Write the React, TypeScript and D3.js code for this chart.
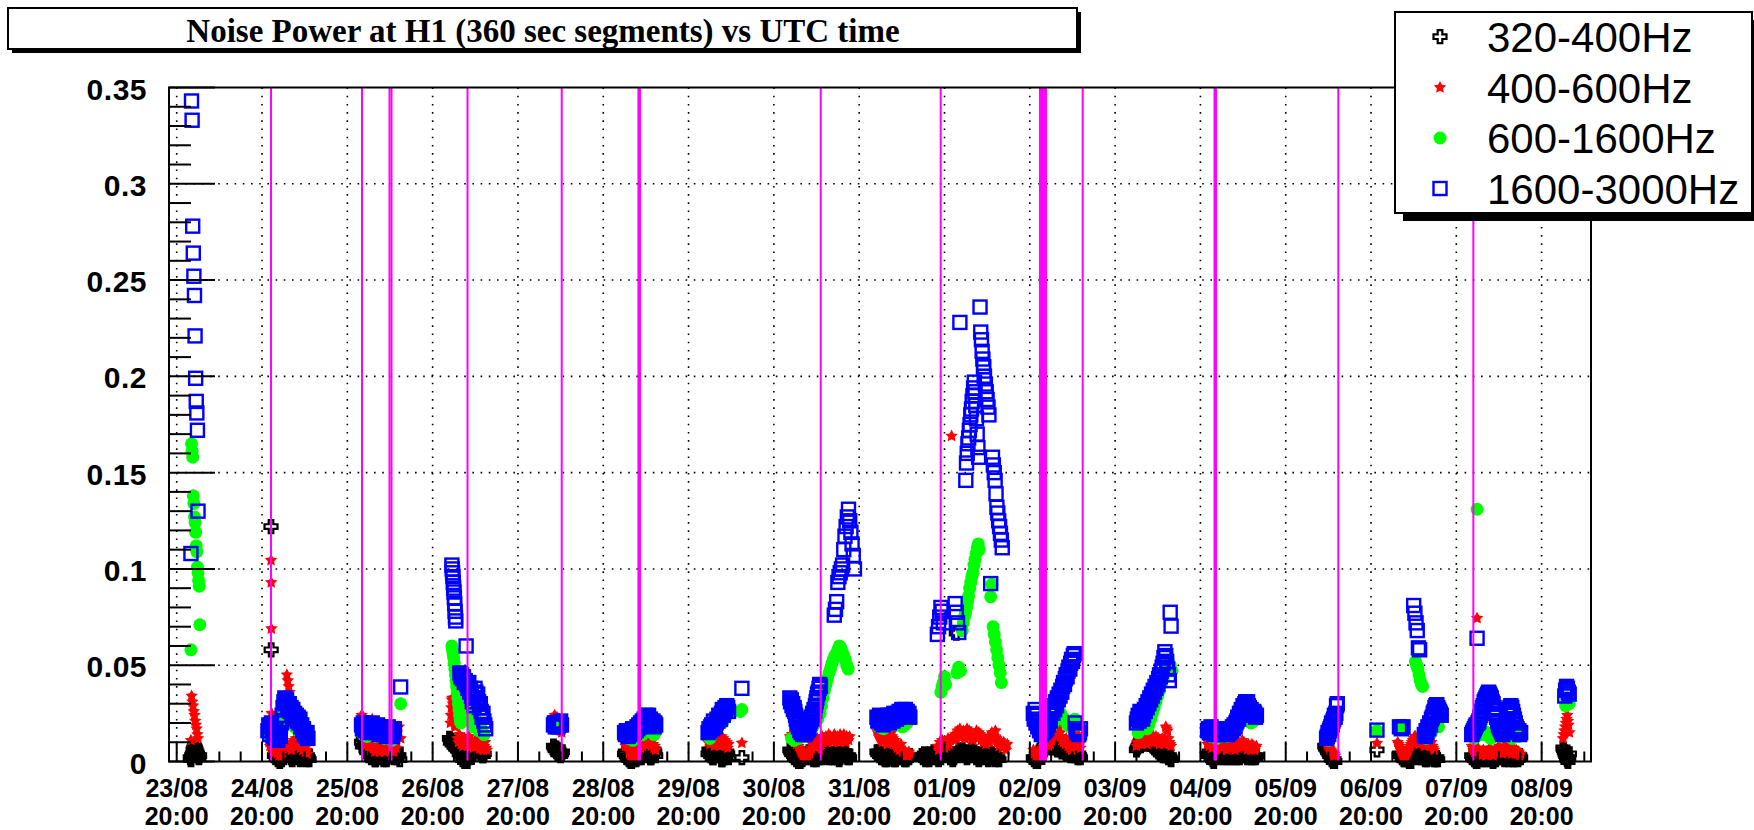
import React from "react";
import * as d3 from "d3";

// A run of consecutive segments: [first segment "DD/MM HH:MM", spacing in minutes, values]
type Run = [string, number, number[]];

const YEAR = 2002;

const seriesLabels = ["320-400Hz", "400-600Hz", "600-1600Hz", "1600-3000Hz"];

const band320: Run[] = [
  ["23/08 23:50", 12, [0.002, 0.001, 0.003, 0.004, 0.006, 0.007, 0.008, 0.007, 0.006, 0.005, 0.004, 0.003, 0.002, 0.003]],
  ["24/08 22:32", 3, [0.122, 0.058]],
  ["24/08 23:30", 15, [0.003, 0.005, 0.002, 0.004, 0.001, 0.003, 0.0, 0.002, 0.001, 0.004, 0.002, 0.005, 0.004, 0.006, 0.005, 0.007, 0.005, 0.004, 0.003, 0.002, 0.001, 0.003, 0.002, 0.004, 0.004, 0.006, 0.005, 0.003, 0.003, 0.001, 0.002, 0.004, 0.004, 0.002, 0.003, 0.005, 0.001, 0.003, 0.002, 0.001]],
  ["26/08 00:00", 15, [0.01, 0.008, 0.012, 0.009, 0.008, 0.006, 0.005, 0.007, 0.003, 0.004, 0.006, 0.002, 0.004, 0.003, 0.002, 0.001, 0.001, 0.003, 0.003, 0.005, 0.005, 0.002, 0.004, 0.006, 0.002, 0.001, 0.003, 0.004, 0.001, 0.002, 0.004, 0.005, 0.006, 0.003, 0.003, 0.005, 0.005, 0.002, 0.004, 0.006, 0.002, 0.003, 0.003, 0.001]],
  ["27/08 00:45", 15, [0.012, 0.01, 0.011, 0.009, 0.01, 0.008, 0.009, 0.007, 0.008, 0.006, 0.006, 0.004, 0.005, 0.003, 0.003, 0.001, 0.002, 0.0, 0.001, 0.002, 0.0, 0.003, 0.002, 0.004, 0.004, 0.006, 0.006, 0.008, 0.008, 0.007, 0.007, 0.009, 0.009, 0.006, 0.006, 0.004, 0.005, 0.003, 0.003, 0.004]],
  ["28/08 06:00", 15, [0.008, 0.007, 0.006, 0.007, 0.005, 0.004, 0.006, 0.005, 0.003, 0.004, 0.005]],
  ["29/08 02:00", 15, [0.004, 0.005, 0.003, 0.002, 0.002, 0.001, 0.001, 0.0, 0.0, 0.002, 0.001, 0.003, 0.002, 0.001, 0.003, 0.004, 0.002, 0.003, 0.004, 0.002, 0.003, 0.005, 0.005, 0.004, 0.006, 0.007, 0.004, 0.005, 0.003, 0.002, 0.002, 0.004, 0.004, 0.006, 0.005, 0.003]],
  ["30/08 01:30", 15, [0.004, 0.006, 0.005, 0.003, 0.003, 0.002, 0.002, 0.004, 0.004, 0.006, 0.006, 0.005, 0.005, 0.003, 0.003, 0.001, 0.001, 0.002, 0.002, 0.004, 0.003, 0.005, 0.004, 0.002]],
  ["30/08 11:00", 30, [0.002]],
  ["31/08 00:30", 16, [0.006, 0.005, 0.004, 0.005, 0.003, 0.002, 0.003, 0.001, 0.002, 0.0, 0.001, 0.0, 0.002, 0.001, 0.003, 0.002, 0.003, 0.004, 0.002, 0.004, 0.005, 0.003, 0.004, 0.002, 0.003, 0.001, 0.002, 0.003, 0.001, 0.003, 0.004, 0.002, 0.004, 0.003, 0.002, 0.003, 0.005, 0.004, 0.003, 0.005, 0.004, 0.002, 0.003, 0.004, 0.002, 0.003, 0.004, 0.002, 0.003, 0.004, 0.002, 0.003, 0.001, 0.002, 0.004, 0.003, 0.005, 0.004, 0.003, 0.005, 0.003, 0.002, 0.003, 0.002]],
  ["01/09 01:00", 15, [0.005, 0.004, 0.005, 0.003, 0.004, 0.002, 0.003, 0.002, 0.003, 0.001, 0.002, 0.001, 0.002, 0.004, 0.003, 0.004, 0.003, 0.002, 0.003, 0.001, 0.002, 0.001, 0.003, 0.002, 0.004, 0.003, 0.005, 0.004, 0.003, 0.002, 0.003, 0.001, 0.002, 0.001, 0.002, 0.003, 0.002, 0.003]],
  ["01/09 13:40", 20, [0.003, 0.002, 0.004, 0.001, 0.002, 0.003, 0.001, 0.004, 0.002, 0.003, 0.005, 0.003, 0.004, 0.002, 0.001, 0.003, 0.002, 0.004, 0.005, 0.006, 0.004, 0.005, 0.003, 0.004, 0.002, 0.003, 0.001, 0.002, 0.004, 0.0667, 0.003, 0.005, 0.006, 0.004, 0.006, 0.005, 0.003, 0.004, 0.002, 0.003, 0.005, 0.004, 0.006, 0.003, 0.005, 0.004, 0.002, 0.003, 0.001, 0.002, 0.004, 0.003, 0.005, 0.004, 0.002, 0.003, 0.001, 0.003, 0.002, 0.004, 0.003, 0.002, 0.001, 0.003, 0.002, 0.001]],
  ["02/09 21:00", 15, [0.002, 0.001, 0.002, 0.0, 0.001, 0.0, 0.002, 0.003, 0.004, 0.005, 0.006, 0.007, 0.008, 0.009, 0.01, 0.008, 0.009, 0.011, 0.01, 0.008, 0.009, 0.007, 0.01, 0.009, 0.008, 0.01, 0.007, 0.006, 0.008, 0.009, 0.007, 0.006, 0.005, 0.007, 0.008, 0.006, 0.005, 0.004, 0.006, 0.007, 0.005, 0.004, 0.003, 0.005, 0.006, 0.004, 0.003, 0.005, 0.004, 0.003, 0.002, 0.004, 0.003, 0.002]],
  ["04/09 02:00", 15, [0.006, 0.007, 0.008, 0.009, 0.01, 0.011, 0.012, 0.011, 0.01, 0.012, 0.011, 0.01, 0.009, 0.011, 0.012, 0.01, 0.009, 0.011, 0.01, 0.008, 0.009, 0.007, 0.008, 0.006, 0.007, 0.005, 0.006, 0.004, 0.005, 0.004, 0.003, 0.004, 0.003, 0.0045, 0.004, 0.003, 0.002, 0.003, 0.002, 0.001]],
  ["04/09 22:00", 15, [0.004, 0.003, 0.005, 0.004, 0.002, 0.003, 0.001, 0.0, 0.002, 0.003, 0.004, 0.003, 0.002, 0.004, 0.003, 0.005, 0.004, 0.003, 0.002, 0.003, 0.004, 0.002, 0.003, 0.004, 0.005, 0.003, 0.002, 0.004, 0.003, 0.002, 0.003, 0.004, 0.003, 0.002, 0.004, 0.003, 0.002, 0.003, 0.004, 0.005, 0.004, 0.003, 0.004, 0.005, 0.003, 0.002, 0.003, 0.004, 0.003, 0.002, 0.004, 0.003, 0.002, 0.003, 0.002, 0.003]],
  ["06/09 07:00", 12, [0.008, 0.007, 0.007, 0.006, 0.005, 0.005, 0.004, 0.003, 0.003, 0.002, 0.001, 0.001, 0.0, 0.001, 0.0]],
  ["06/09 21:40", 1, [0.006]],
  ["07/09 04:00", 15, [0.004, 0.003, 0.003, 0.002, 0.002, 0.001, 0.001, 0.003, 0.002, 0.002, 0.001, 0.0, 0.001, 0.0, 0.002, 0.003, 0.003, 0.004, 0.004, 0.005, 0.003, 0.002, 0.003, 0.004, 0.003, 0.002, 0.004, 0.003, 0.002, 0.001, 0.002, 0.001, 0.002, 0.004, 0.003, 0.004, 0.002, 0.003, 0.002, 0.001, 0.002, 0.001, 0.002, 0.001]],
  ["08/09 00:20", 15, [0.003, 0.002, 0.002, 0.001, 0.001, 0.0, 0.0, 0.001, 0.002, 0.003, 0.002, 0.003, 0.002, 0.001, 0.002, 0.001, 0.002, 0.003, 0.004, 0.003, 0.002, 0.001, 0.002, 0.001, 0.0, 0.001, 0.002, 0.001, 0.002, 0.003, 0.002, 0.003, 0.004, 0.003, 0.004, 0.003, 0.002, 0.001, 0.002, 0.003, 0.002, 0.001, 0.002, 0.003, 0.002, 0.003, 0.001, 0.002, 0.001, 0.002, 0.003, 0.002, 0.001, 0.002, 0.003, 0.002]],
  ["09/09 02:00", 12, [0.007, 0.006, 0.005, 0.004, 0.003, 0.002, 0.001, 0.0, 0.002, 0.004]],
];

const band400: Run[] = [
  ["24/08 00:00", 12, [0.011, 0.034, 0.031, 0.029, 0.026, 0.024, 0.021, 0.019, 0.017, 0.014, 0.012]],
  ["24/08 22:32", 3, [0.1045, 0.093, 0.069, 0.025]],
  ["24/08 22:00", 15, [0.01, 0.008, 0.011, 0.007, 0.009, 0.006, 0.008, 0.005, 0.007, 0.004, 0.006, 0.003, 0.005, 0.002, 0.004, 0.009, 0.011, 0.008, 0.01, 0.007, 0.045, 0.042, 0.039, 0.036, 0.009, 0.006, 0.008, 0.01, 0.011, 0.009, 0.012, 0.01, 0.008, 0.011, 0.009, 0.007, 0.01, 0.008, 0.006, 0.009, 0.007, 0.005, 0.006, 0.004]],
  ["26/08 00:00", 15, [0.024, 0.022, 0.023, 0.02, 0.021, 0.012, 0.009, 0.011, 0.008, 0.01, 0.006, 0.009, 0.022, 0.007, 0.009, 0.005, 0.008, 0.006, 0.01, 0.007, 0.005, 0.009, 0.006, 0.008, 0.011, 0.007, 0.005, 0.008, 0.006, 0.009, 0.011, 0.008, 0.006, 0.01, 0.007, 0.009, 0.005, 0.008, 0.01, 0.007]],
  ["26/08 10:30", 30, [0.018, 0.012]],
  ["27/08 01:00", 8, [0.02, 0.024, 0.028, 0.032, 0.033, 0.03, 0.027, 0.025, 0.022, 0.019, 0.018]],
  ["27/08 03:00", 15, [0.012, 0.01, 0.014, 0.011, 0.009, 0.012, 0.008, 0.01, 0.012, 0.009, 0.011, 0.008, 0.01, 0.013, 0.009, 0.011, 0.008, 0.01, 0.007, 0.009, 0.011, 0.008, 0.01, 0.006, 0.009, 0.011, 0.008, 0.007, 0.009, 0.006, 0.008, 0.01, 0.007, 0.006]],
  ["28/08 06:00", 20, [0.023, 0.024, 0.022, 0.023, 0.02, 0.018, 0.016, 0.015]],
  ["29/08 02:00", 15, [0.01, 0.008, 0.009, 0.006, 0.007, 0.004, 0.005, 0.003, 0.004, 0.002, 0.005, 0.003, 0.004, 0.006, 0.005, 0.007, 0.006, 0.008, 0.007, 0.009, 0.008, 0.01, 0.011, 0.009, 0.012, 0.01, 0.011, 0.009, 0.012, 0.01, 0.008, 0.011, 0.009, 0.007, 0.008, 0.006]],
  ["30/08 01:30", 15, [0.01, 0.012, 0.009, 0.011, 0.013, 0.01, 0.012, 0.008, 0.011, 0.013, 0.009, 0.012, 0.01, 0.008, 0.011, 0.013, 0.01, 0.012, 0.009, 0.011, 0.008, 0.01, 0.007, 0.009]],
  ["30/08 11:00", 30, [0.0096]],
  ["31/08 00:30", 16, [0.013, 0.012, 0.014, 0.011, 0.012, 0.01, 0.011, 0.009, 0.01, 0.008, 0.007, 0.006, 0.005, 0.004, 0.003, 0.004, 0.003, 0.002, 0.004, 0.003, 0.005, 0.004, 0.006, 0.007, 0.009, 0.008, 0.01, 0.011, 0.009, 0.012, 0.008, 0.006, 0.009, 0.011, 0.013, 0.01, 0.012, 0.011, 0.013, 0.01, 0.012, 0.014, 0.011, 0.013, 0.012, 0.01, 0.013, 0.014, 0.012, 0.011, 0.013, 0.012, 0.01, 0.014, 0.012, 0.013, 0.011, 0.014, 0.012, 0.01, 0.013, 0.012, 0.011, 0.013]],
  ["01/09 01:00", 15, [0.016, 0.015, 0.014, 0.013, 0.012, 0.011, 0.01, 0.012, 0.013, 0.011, 0.012, 0.01, 0.009, 0.011, 0.012, 0.014, 0.015, 0.013, 0.012, 0.01, 0.011, 0.009, 0.008, 0.007, 0.008, 0.006, 0.007, 0.009, 0.006, 0.005, 0.006, 0.004, 0.005, 0.003, 0.004, 0.003, 0.005, 0.004]],
  ["01/09 18:00", 20, [0.008, 0.006, 0.01, 0.007, 0.011, 0.009, 0.007, 0.01, 0.008, 0.012, 0.009, 0.011, 0.169, 0.013, 0.011, 0.014, 0.012, 0.016, 0.013, 0.017, 0.015, 0.013, 0.016, 0.012, 0.015, 0.017, 0.014, 0.016, 0.013, 0.012, 0.011, 0.014, 0.013, 0.016, 0.012, 0.015, 0.014, 0.011, 0.013, 0.01, 0.012, 0.009, 0.011, 0.013, 0.01, 0.012, 0.015, 0.011, 0.013, 0.016, 0.012, 0.01, 0.008, 0.011, 0.009, 0.007, 0.01, 0.008, 0.006, 0.009]],
  ["02/09 21:00", 15, [0.006, 0.004, 0.005, 0.003, 0.004, 0.002, 0.003, 0.005, 0.004, 0.006, 0.007, 0.006, 0.008, 0.009, 0.01, 0.009, 0.011, 0.008, 0.01, 0.009, 0.011, 0.012, 0.013, 0.015, 0.017, 0.019, 0.021, 0.023, 0.02, 0.018, 0.015, 0.013, 0.011, 0.012, 0.01, 0.011, 0.009, 0.012, 0.01, 0.008, 0.009, 0.007, 0.008, 0.006, 0.009, 0.011, 0.013, 0.015, 0.014, 0.012, 0.01, 0.008, 0.009, 0.007]],
  ["04/09 02:00", 15, [0.008, 0.01, 0.009, 0.012, 0.011, 0.009, 0.01, 0.012, 0.011, 0.013, 0.01, 0.012, 0.009, 0.011, 0.012, 0.01, 0.011, 0.013, 0.014, 0.012, 0.01, 0.012, 0.013, 0.011, 0.01, 0.012, 0.009, 0.011, 0.01, 0.012, 0.011, 0.009, 0.012, 0.018, 0.017, 0.016, 0.012, 0.01, 0.009, 0.008]],
  ["04/09 22:00", 15, [0.009, 0.01, 0.008, 0.011, 0.009, 0.007, 0.01, 0.008, 0.009, 0.011, 0.008, 0.007, 0.009, 0.01, 0.008, 0.006, 0.009, 0.007, 0.008, 0.01, 0.007, 0.009, 0.006, 0.008, 0.007, 0.009, 0.008, 0.01, 0.007, 0.009, 0.008, 0.006, 0.008, 0.007, 0.009, 0.01, 0.008, 0.007, 0.009, 0.011, 0.008, 0.01, 0.007, 0.009, 0.006, 0.008, 0.009, 0.007, 0.008, 0.006, 0.009, 0.007, 0.008, 0.006, 0.007, 0.008]],
  ["06/09 07:30", 12, [0.01, 0.009, 0.008, 0.008, 0.007, 0.006, 0.006, 0.005, 0.005, 0.004, 0.003, 0.004, 0.003]],
  ["06/09 21:40", 1, [0.0095]],
  ["07/09 03:30", 15, [0.01, 0.009, 0.008, 0.007, 0.005, 0.004, 0.003, 0.003, 0.002, 0.003, 0.004, 0.005, 0.006, 0.007, 0.008, 0.009, 0.01, 0.011, 0.012, 0.013, 0.013, 0.011, 0.012, 0.01, 0.009, 0.011, 0.012, 0.01, 0.011, 0.009, 0.008, 0.01, 0.011, 0.013, 0.012, 0.01, 0.009, 0.008, 0.01, 0.008, 0.007, 0.006]],
  ["08/09 00:20", 15, [0.008, 0.007, 0.006, 0.005, 0.005, 0.006, 0.0744, 0.007, 0.005, 0.004, 0.003, 0.004, 0.005, 0.006, 0.005, 0.004, 0.003, 0.004, 0.005, 0.006, 0.007, 0.006, 0.005, 0.004, 0.003, 0.004, 0.005, 0.006, 0.005, 0.007, 0.006, 0.008, 0.007, 0.006, 0.005, 0.004, 0.005, 0.006, 0.007, 0.008, 0.009, 0.008, 0.007, 0.006, 0.005, 0.004, 0.006, 0.007, 0.005, 0.004, 0.006, 0.005, 0.004, 0.005, 0.003, 0.004]],
  ["09/09 02:00", 12, [0.012, 0.014, 0.016, 0.018, 0.02, 0.022, 0.024, 0.021, 0.019, 0.015]],
];

const band600: Run[] = [
  ["24/08 00:00", 10, [0.058, 0.165, 0.161, 0.158, 0.138, 0.134, 0.127, 0.124, 0.119, 0.112, 0.109, 0.101, 0.098, 0.094, 0.091, 0.071]],
  ["24/08 21:40", 30, [0.013, 0.015, 0.012, 0.014, 0.011, 0.013, 0.012, 0.014, 0.022, 0.026, 0.028, 0.025, 0.022, 0.02, 0.021, 0.018, 0.019, 0.016, 0.015, 0.014, 0.014, 0.012, 0.013]],
  ["26/08 00:00", 30, [0.015, 0.014, 0.016, 0.013, 0.014, 0.016, 0.015, 0.019, 0.013, 0.014, 0.016, 0.015, 0.014, 0.012, 0.013, 0.015, 0.014, 0.011, 0.013]],
  ["26/08 11:00", 30, [0.03]],
  ["27/08 01:25", 10, [0.06, 0.058, 0.056, 0.054, 0.051, 0.048, 0.045, 0.042, 0.039, 0.036, 0.033, 0.03, 0.027, 0.024, 0.022, 0.02]],
  ["27/08 04:00", 30, [0.025, 0.028, 0.03, 0.026, 0.022, 0.024, 0.02, 0.018, 0.022, 0.019, 0.016, 0.018, 0.015, 0.014]],
  ["28/08 06:30", 30, [0.017, 0.019, 0.021, 0.018]],
  ["29/08 03:00", 40, [0.012, 0.013, 0.011, 0.014, 0.013, 0.015, 0.014, 0.016, 0.017, 0.016, 0.015, 0.014, 0.016]],
  ["30/08 02:00", 30, [0.012, 0.014, 0.016, 0.018, 0.017, 0.019, 0.021, 0.02, 0.022, 0.023]],
  ["30/08 10:30", 30, [0.026, 0.027]],
  ["31/08 01:00", 40, [0.012, 0.011, 0.013, 0.012, 0.014, 0.013, 0.015, 0.016, 0.017, 0.018, 0.02, 0.022]],
  ["31/08 09:00", 25, [0.025, 0.029, 0.033, 0.037, 0.04, 0.043, 0.046, 0.048, 0.051, 0.053, 0.055, 0.056, 0.058, 0.06, 0.059, 0.057, 0.055, 0.053, 0.05, 0.048]],
  ["01/09 01:30", 40, [0.018, 0.019, 0.017, 0.018, 0.02, 0.019, 0.021, 0.02, 0.019, 0.02, 0.018, 0.019, 0.02]],
  ["01/09 19:00", 20, [0.036, 0.039, 0.041, 0.044, 0.04]],
  ["01/09 23:30", 30, [0.046, 0.049, 0.047]],
  ["02/09 01:00", 18, [0.068, 0.072, 0.075, 0.077, 0.08, 0.083, 0.086, 0.09, 0.093, 0.096, 0.098, 0.102, 0.105, 0.108, 0.111, 0.113, 0.11]],
  ["02/09 09:00", 20, [0.0855, 0.092, 0.07, 0.066, 0.062, 0.058, 0.054, 0.05, 0.046, 0.041]],
  ["02/09 22:00", 40, [0.018, 0.016, 0.02, 0.022, 0.019, 0.021, 0.018, 0.02, 0.022, 0.024, 0.025, 0.023, 0.021, 0.019, 0.018, 0.02, 0.022, 0.019]],
  ["04/09 02:30", 30, [0.015, 0.017, 0.019, 0.018, 0.02, 0.017, 0.019, 0.022, 0.025, 0.028, 0.031, 0.034, 0.037, 0.04, 0.043, 0.046, 0.049, 0.052, 0.05, 0.047]],
  ["04/09 23:00", 45, [0.013, 0.014, 0.012, 0.015, 0.013, 0.014, 0.013, 0.015, 0.016, 0.018, 0.022, 0.026, 0.028, 0.025, 0.022, 0.02, 0.021]],
  ["06/09 08:00", 25, [0.011, 0.014, 0.017, 0.02, 0.023, 0.021]],
  ["06/09 21:40", 1, [0.016]],
  ["07/09 04:30", 30, [0.018, 0.017]],
  ["07/09 08:30", 20, [0.052, 0.05, 0.048, 0.045, 0.042, 0.04, 0.039]],
  ["07/09 11:30", 30, [0.012, 0.014, 0.016, 0.015, 0.017, 0.019, 0.02, 0.018]],
  ["08/09 01:00", 40, [0.012, 0.013, 0.015, 0.014, 0.016, 0.015, 0.013, 0.012, 0.014, 0.016, 0.015, 0.013, 0.014, 0.016, 0.015, 0.013, 0.012, 0.014, 0.015, 0.013]],
  ["08/09 01:50", 1, [0.131]],
  ["09/09 02:45", 15, [0.029, 0.031, 0.033, 0.032, 0.03]],
];

const band1600: Run[] = [
  ["24/08 00:00", 10, [0.108, 0.343, 0.333, 0.278, 0.264, 0.252, 0.242, 0.221, 0.199, 0.187, 0.181, 0.172, 0.13]],
  ["24/08 21:40", 15, [0.016, 0.019, 0.014, 0.018, 0.02, 0.017, 0.013, 0.015, 0.012, 0.016, 0.014, 0.011, 0.015, 0.017, 0.013, 0.02, 0.024, 0.028, 0.031, 0.033, 0.03, 0.032, 0.029, 0.027, 0.03, 0.026, 0.028, 0.025, 0.027, 0.023, 0.025, 0.022, 0.024, 0.021, 0.023, 0.02, 0.022, 0.018, 0.019, 0.016, 0.017, 0.014, 0.015, 0.013, 0.015, 0.012]],
  ["26/08 00:00", 15, [0.019, 0.017, 0.02, 0.018, 0.016, 0.019, 0.017, 0.015, 0.018, 0.016, 0.019, 0.017, 0.02, 0.018, 0.016, 0.018, 0.015, 0.017, 0.019, 0.016, 0.014, 0.017, 0.015, 0.018, 0.016, 0.014, 0.017, 0.015, 0.013, 0.016, 0.018, 0.015, 0.017, 0.014, 0.016, 0.013, 0.015, 0.017]],
  ["26/08 11:00", 30, [0.0387]],
  ["27/08 01:25", 6, [0.102, 0.1, 0.098, 0.096, 0.093, 0.09, 0.088, 0.085, 0.082, 0.078, 0.075, 0.073]],
  ["27/08 03:40", 15, [0.046, 0.044, 0.045, 0.043, 0.044, 0.041, 0.042, 0.06, 0.04, 0.038, 0.041, 0.036, 0.038, 0.034, 0.031, 0.033, 0.029, 0.038, 0.036, 0.033, 0.035, 0.031, 0.028, 0.03, 0.026, 0.023, 0.025, 0.021, 0.019, 0.017]],
  ["28/08 06:00", 15, [0.019, 0.02, 0.018, 0.02, 0.019, 0.018, 0.02, 0.019, 0.021, 0.019]],
  ["29/08 02:00", 15, [0.015, 0.014, 0.016, 0.015, 0.013, 0.015, 0.014, 0.016, 0.015, 0.017, 0.016, 0.015, 0.017, 0.016, 0.018, 0.017, 0.019, 0.018, 0.02, 0.019, 0.021, 0.02, 0.022, 0.021, 0.024, 0.023, 0.022, 0.024, 0.02, 0.022, 0.021, 0.019, 0.021, 0.018, 0.02, 0.019]],
  ["30/08 01:30", 15, [0.015, 0.017, 0.016, 0.018, 0.019, 0.017, 0.021, 0.019, 0.018, 0.02, 0.022, 0.021, 0.024, 0.023, 0.022, 0.025, 0.027, 0.024, 0.026, 0.028, 0.027, 0.029, 0.028, 0.026]],
  ["30/08 11:00", 30, [0.038]],
  ["31/08 00:30", 12, [0.033, 0.031, 0.032, 0.029, 0.03, 0.027, 0.028, 0.026, 0.024, 0.022, 0.02, 0.021, 0.018, 0.019, 0.016, 0.017, 0.015, 0.016, 0.014, 0.015, 0.016, 0.014, 0.017, 0.015, 0.018, 0.016, 0.019, 0.017, 0.02, 0.021, 0.023, 0.022, 0.025, 0.024, 0.027, 0.026, 0.029, 0.031, 0.033, 0.035, 0.036, 0.038, 0.04, 0.039]],
  ["31/08 13:00", 20, [0.076, 0.079, 0.083, 0.093, 0.096, 0.098, 0.1, 0.102, 0.11, 0.117, 0.122, 0.127, 0.131, 0.125, 0.119, 0.113, 0.107, 0.1]],
  ["01/09 01:00", 15, [0.023, 0.021, 0.022, 0.024, 0.022, 0.02, 0.021, 0.019, 0.022, 0.02, 0.023, 0.021, 0.024, 0.022, 0.02, 0.022, 0.024, 0.023, 0.021, 0.025, 0.023, 0.024, 0.022, 0.025, 0.023, 0.026, 0.024, 0.025, 0.027, 0.025, 0.026, 0.024, 0.027, 0.025, 0.026, 0.024, 0.025, 0.023]],
  ["01/09 18:00", 20, [0.066, 0.07, 0.075, 0.08, 0.078, 0.072]],
  ["01/09 23:00", 20, [0.082, 0.0775, 0.072, 0.067, 0.228]],
  ["02/09 02:00", 12, [0.146, 0.155, 0.16, 0.165, 0.168, 0.172, 0.175, 0.18, 0.183, 0.187, 0.19, 0.194, 0.197, 0.192, 0.185, 0.178, 0.17, 0.163, 0.158]],
  ["02/09 06:00", 12, [0.236, 0.223, 0.219, 0.213, 0.209, 0.205, 0.2]],
  ["02/09 07:00", 15, [0.205, 0.2, 0.196, 0.192, 0.188, 0.184, 0.18]],
  ["02/09 09:00", 1, [0.0924]],
  ["02/09 09:30", 15, [0.158, 0.154, 0.15, 0.146, 0.139, 0.132, 0.129, 0.125, 0.122, 0.1185, 0.115, 0.111]],
  ["02/09 21:00", 15, [0.025, 0.022, 0.027, 0.02, 0.024, 0.018, 0.021, 0.016, 0.019, 0.014, 0.017, 0.015, 0.018, 0.016, 0.02, 0.017, 0.022, 0.019, 0.024, 0.021, 0.026, 0.028, 0.025, 0.029, 0.027, 0.031, 0.029, 0.033, 0.032, 0.035, 0.034, 0.037, 0.036, 0.039, 0.041, 0.04, 0.043, 0.045, 0.044, 0.047, 0.049, 0.048, 0.051, 0.053, 0.052, 0.055, 0.056, 0.02, 0.017, 0.015, 0.016, 0.014, 0.015, 0.017]],
  ["04/09 02:00", 15, [0.02, 0.022, 0.024, 0.021, 0.026, 0.023, 0.025, 0.022, 0.024, 0.027, 0.026, 0.029, 0.028, 0.031, 0.03, 0.033, 0.032, 0.035, 0.034, 0.037, 0.036, 0.039, 0.038, 0.041, 0.04, 0.043, 0.045, 0.044, 0.047, 0.049, 0.051, 0.054, 0.057, 0.055, 0.052, 0.048, 0.045, 0.042, 0.0775, 0.0703]],
  ["04/09 22:00", 15, [0.016, 0.017, 0.015, 0.016, 0.018, 0.015, 0.017, 0.014, 0.016, 0.015, 0.017, 0.016, 0.014, 0.015, 0.017, 0.016, 0.015, 0.017, 0.014, 0.016, 0.015, 0.017, 0.016, 0.014, 0.016, 0.015, 0.017, 0.016, 0.018, 0.017, 0.019, 0.018, 0.02, 0.021, 0.023, 0.022, 0.025, 0.024, 0.027, 0.026, 0.029, 0.028, 0.03, 0.031, 0.03, 0.031, 0.029, 0.028, 0.026, 0.027, 0.025, 0.024, 0.026, 0.025, 0.023, 0.024]],
  ["06/09 07:30", 12, [0.012, 0.013, 0.015, 0.014, 0.016, 0.017, 0.018, 0.02, 0.019, 0.021, 0.022, 0.024, 0.023, 0.025, 0.029, 0.03]],
  ["06/09 21:40", 1, [0.0163]],
  ["07/09 04:00", 30, [0.018, 0.017, 0.018]],
  ["07/09 08:00", 20, [0.081, 0.077, 0.072, 0.068, 0.059, 0.058]],
  ["07/09 11:00", 15, [0.014, 0.013, 0.016, 0.015, 0.018, 0.017, 0.02, 0.019, 0.022, 0.023, 0.025, 0.026, 0.028, 0.029, 0.0295, 0.028, 0.027, 0.026, 0.025, 0.024]],
  ["08/09 00:20", 15, [0.014, 0.015, 0.016, 0.017, 0.018, 0.019, 0.064, 0.02, 0.021, 0.023, 0.024, 0.026, 0.028, 0.029, 0.031, 0.032, 0.033, 0.034, 0.035, 0.036, 0.035, 0.034, 0.033, 0.031, 0.03, 0.028, 0.027, 0.025, 0.023, 0.021, 0.019, 0.018, 0.017, 0.016, 0.015, 0.014, 0.016, 0.018, 0.02, 0.022, 0.024, 0.025, 0.027, 0.028, 0.029, 0.028, 0.026, 0.024, 0.022, 0.02, 0.018, 0.017, 0.015, 0.016, 0.014, 0.015]],
  ["09/09 02:30", 15, [0.034, 0.037, 0.039, 0.038, 0.036, 0.035]],
];

// Lock-loss times, drawn as magenta verticals
const lockLosses = [
  "24/08 22:32", "26/08 00:08", "26/08 07:52", "26/08 08:26", "27/08 05:49",
  "28/08 08:19", "29/08 05:54", "29/08 06:20", "31/08 09:11", "01/09 18:56",
  "02/09 22:52", "02/09 23:26", "02/09 23:59", "03/09 00:33", "03/09 10:53",
  "04/09 23:58", "05/09 00:23", "06/09 10:48", "08/09 00:47",
];

const yTickValues = [0, 0.05, 0.1, 0.15, 0.2, 0.25, 0.3, 0.35];
const yTickLabels = ["0", "0.05", "0.1", "0.15", "0.2", "0.25", "0.3", "0.35"];

const timeStart = "23/08 17:50";
const timeEnd = "09/09 09:53";

const parseTime = d3.utcParse("%d/%m/%Y %H:%M");
const toDate = (s: string) => parseTime(`${s.slice(0, 5)}/${YEAR} ${s.slice(6)}`) as Date;

function expand(runs: Run[]) {
  const pts: { t: Date; v: number }[] = [];
  for (const [start, step, values] of runs) {
    const t0 = toDate(start).getTime();
    values.forEach((v, i) => pts.push({ t: new Date(t0 + i * step * 60000), v }));
  }
  return pts;
}

const W = 1754;
const H = 830;
const F = { left: 169, right: 1591, top: 87.5, bottom: 761.5 };

const SANS = "'Liberation Sans', Arial, Helvetica, sans-serif";
const SERIF = "'Liberation Serif', 'Times New Roman', serif";

// marker outlines, centred on the origin
const crossPath = (() => {
  const a = 6.5, b = 2.3;
  return `M${-b},${-a}H${b}V${-b}H${a}V${b}H${b}V${a}H${-b}V${b}H${-a}V${-b}H${-b}Z`;
})();
const starPath = (() => {
  const R = 6.5, r = 3.3;
  const pts: string[] = [];
  for (let i = 0; i < 10; i++) {
    const rad = i % 2 === 0 ? R : r;
    const ang = -Math.PI / 2 + (i * Math.PI) / 5;
    pts.push(`${(rad * Math.cos(ang)).toFixed(2)},${(rad * Math.sin(ang)).toFixed(2)}`);
  }
  return "M" + pts.join("L") + "Z";
})();

type MarkerKind = "cross" | "star" | "circle" | "square";

function Marker({ kind, x, y }: { kind: MarkerKind; x: number; y: number }) {
  const tr = `translate(${x.toFixed(2)},${y.toFixed(2)})`;
  if (kind === "cross")
    return <path d={crossPath} transform={tr} fill="none" stroke="#000" strokeWidth={2.2} />;
  if (kind === "star") return <path d={starPath} transform={tr} fill="#ff0000" />;
  if (kind === "circle") return <circle cx={x} cy={y} r={6.5} fill="#00ff00" />;
  return (
    <rect x={x - 6.5} y={y - 6.5} width={13} height={13} fill="none" stroke="#0000ff" strokeWidth={2.4} />
  );
}

export default function App() {
  const x = d3.scaleUtc().domain([toDate(timeStart), toDate(timeEnd)]).range([F.left, F.right]);
  const y = d3.scaleLinear().domain([0, 0.35]).range([F.bottom, F.top]);

  const series: { kind: MarkerKind; runs: Run[] }[] = [
    { kind: "cross", runs: band320 },
    { kind: "star", runs: band400 },
    { kind: "circle", runs: band600 },
    { kind: "square", runs: band1600 },
  ];

  const hours = d3.utcHours(x.domain()[0], x.domain()[1]).filter((d) => d.getUTCHours() % 6 === 2);
  const days = hours.filter((d) => d.getUTCHours() === 20);
  const yMinor = d3.range(0, 0.3501, 0.01);
  const fmtDay = d3.utcFormat("%d/%m");
  const fmtHour = d3.utcFormat("%H:%M");

  const legendMarkerX = 1440;
  const legendRows = [36.7, 87.5, 138, 188.5];

  return (
    <svg
      width={W}
      height={H}
      viewBox={`0 0 ${W} ${H}`}
      style={{ position: "absolute", left: 0, top: 0, display: "block", background: "#fff" }}
    >
      <rect x={0} y={0} width={W} height={H} fill="#fff" />

      {/* grid */}
      <g stroke="#000" strokeWidth={1.6} strokeDasharray="1.6 6.6">
        {days.map((d, i) => (
          <line key={"gx" + i} x1={x(d)} x2={x(d)} y1={F.top} y2={F.bottom} />
        ))}
        {yTickValues.slice(1, -1).map((v, i) => (
          <line key={"gy" + i} x1={F.left} x2={F.right} y1={y(v)} y2={y(v)} />
        ))}
      </g>

      {/* data */}
      {series.map((s) => (
        <g key={s.kind}>
          {expand(s.runs).map((p, i) => (
            <Marker key={i} kind={s.kind} x={x(p.t)} y={y(p.v)} />
          ))}
        </g>
      ))}

      {/* lock losses */}
      <g stroke="#ff00ff" strokeWidth={2}>
        {lockLosses.map((s, i) => {
          const px = x(toDate(s));
          return <line key={"ll" + i} x1={px} x2={px} y1={F.top} y2={F.bottom} />;
        })}
      </g>

      {/* frame */}
      <rect x={F.left} y={F.top} width={F.right - F.left} height={F.bottom - F.top} fill="none" stroke="#000" strokeWidth={2} />

      {/* y axis ticks and labels */}
      <g stroke="#000" strokeWidth={2}>
        {yMinor.map((v, i) => {
          const major = i % 5 === 0;
          return <line key={"yt" + i} x1={F.left} x2={F.left + (major ? 46 : 22)} y1={y(v)} y2={y(v)} />;
        })}
      </g>
      <g fontFamily={SANS} fontWeight="bold" fontSize={30} textAnchor="end" fill="#000">
        {yTickValues.map((v, i) => (
          <text key={"yl" + i} x={147} y={y(v) + 12} letterSpacing={0.5}>
            {yTickLabels[i]}
          </text>
        ))}
      </g>

      {/* x axis ticks and labels */}
      <g stroke="#000" strokeWidth={2}>
        {hours.map((d, i) => {
          const major = d.getUTCHours() === 20;
          return <line key={"xt" + i} x1={x(d)} x2={x(d)} y1={F.bottom} y2={F.bottom - (major ? 20 : 10)} />;
        })}
      </g>
      <g fontFamily={SANS} fontWeight="bold" fontSize={25} textAnchor="middle" fill="#000">
        {days.map((d, i) => (
          <g key={"xl" + i}>
            <text x={x(d)} y={797}>{fmtDay(d)}</text>
            <text x={x(d)} y={825}>{fmtHour(d)}</text>
          </g>
        ))}
      </g>

      {/* title */}
      <rect x={12} y={12} width={1069} height={41} fill="#000" />
      <rect x={8} y={8} width={1069} height={41} fill="#fff" stroke="#000" strokeWidth={2} />
      <text x={543} y={42} textAnchor="middle" fontFamily={SERIF} fontWeight="bold" fontSize={33} fill="#000">
        Noise Power at H1 (360 sec segments) vs UTC time
      </text>

      {/* legend */}
      <rect x={1403} y={20} width={357} height={201} fill="#000" />
      <rect x={1395} y={12} width={357} height={201} fill="#fff" stroke="#000" strokeWidth={2} />
      {seriesLabels.map((label, i) => (
        <g key={"lg" + i}>
          <Marker kind={series[i].kind} x={legendMarkerX} y={legendRows[i]} />
          <text x={1487} y={legendRows[i] + 15} fontFamily={SANS} fontSize={42} fill="#000">
            {label}
          </text>
        </g>
      ))}
    </svg>
  );
}
